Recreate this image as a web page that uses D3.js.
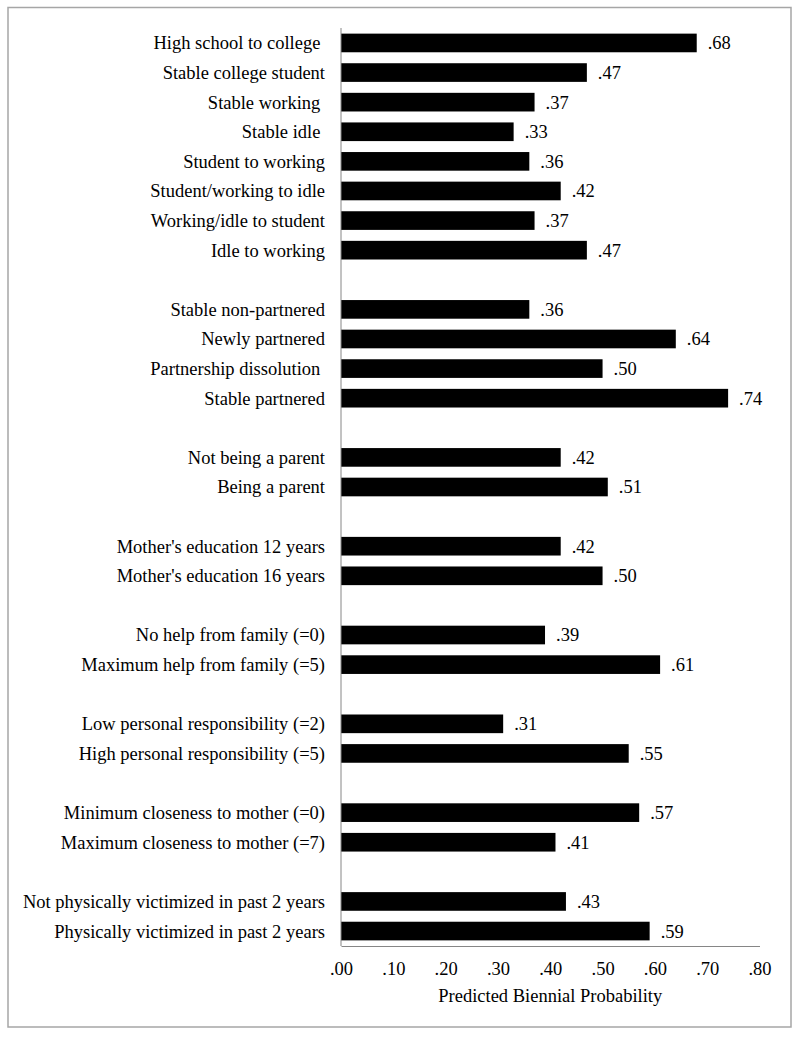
<!DOCTYPE html>
<html>
<head>
<meta charset="utf-8">
<script src="https://cdn.jsdelivr.net/npm/d3@7"></script>
<style>
	body { margin: 0; background: #fff; }
	text { font-family: "Liberation Serif", "DejaVu Serif", serif; fill: #000; white-space: pre; }
</style>
</head>
<body>
<div class="graphic"></div>
<script>
var width = 800;
var height = 1037;
var fontSize = 18.5;

// chart data
var categories = [
	"High school to college ", "Stable college student", "Stable working ", "Stable idle ",
	"Student to working", "Student/working to idle", "Working/idle to student", "Idle to working",
	"Stable non-partnered", "Newly partnered", "Partnership dissolution ", "Stable partnered",
	"Not being a parent", "Being a parent",
	"Mother's education 12 years", "Mother's education 16 years",
	"No help from family (=0)", "Maximum help from family (=5)",
	"Low personal responsibility (=2)", "High personal responsibility (=5)",
	"Minimum closeness to mother (=0)", "Maximum closeness to mother (=7)",
	"Not physically victimized in past 2 years", "Physically victimized in past 2 years"
];
var values = [
	.68, .47, .37, .33, .36, .42, .37, .47,
	.36, .64, .50, .74,
	.42, .51,
	.42, .50,
	.39, .61,
	.31, .55,
	.57, .41,
	.43, .59
];
var groupSizes = [8, 4, 2, 2, 2, 2, 2, 2];
var xTicks = [0, .1, .2, .3, .4, .5, .6, .7, .8];
var xTitle = "Predicted Biennial Probability";

// domain with an empty slot between the groups
var slots = [];
var k = 0;
groupSizes.forEach(function(size, g){
	if (g > 0) slots.push("gap" + g);
	for (var i = 0; i < size; i++) { slots.push(categories[k]); k++; }
});

var svg = d3.select("div.graphic").append("svg")
	.attr("width", width)
	.attr("height", height);

// outer frame
svg.append("rect")
	.attr("x", 8).attr("y", 7.5)
	.attr("width", 783).attr("height", 1019.5)
	.attr("fill", "none")
	.attr("stroke", "#a6a6a6")
	.attr("stroke-width", 1.5);

var x = d3.scaleLinear().domain([0, .8]).range([341, 759.5]);
var y = d3.scaleBand().domain(slots).range([28, 946])
	.paddingInner(0.37).paddingOuter(0.19);

// bars
svg.append("g").selectAll("rect")
	.data(categories)
	.enter()
	.append("rect")
	.attr("x", x(0))
	.attr("y", function(d){ return y(d); })
	.attr("width", function(d, i){ return x(values[i]) - x(0); })
	.attr("height", y.bandwidth())
	.attr("fill", "#000");

// value labels
svg.append("g").selectAll("text")
	.data(categories)
	.enter()
	.append("text")
	.attr("x", function(d, i){ return x(values[i]) + 11; })
	.attr("y", function(d){ return y(d) + y.bandwidth() / 2; })
	.attr("dy", "0.35em")
	.attr("font-size", fontSize)
	.text(function(d, i){ return d3.format(".2f")(values[i]).replace(/^0/, ""); });

// category labels
svg.append("g").selectAll("text")
	.data(categories)
	.enter()
	.append("text")
	.attr("x", 325)
	.attr("y", function(d){ return y(d) + y.bandwidth() / 2; })
	.attr("dy", "0.35em")
	.attr("text-anchor", "end")
	.attr("font-size", fontSize)
	.text(function(d){ return d.replace(/ $/, "\u00a0"); });

// y axis line
svg.append("line")
	.attr("x1", x(0)).attr("x2", x(0))
	.attr("y1", 28).attr("y2", 946)
	.attr("stroke", "#868686")
	.attr("stroke-width", 1);

// x axis
var xAxis = svg.append("g")
	.attr("transform", "translate(0,946)")
	.call(d3.axisBottom(x)
		.tickValues(xTicks)
		.tickSize(0)
		.tickPadding(16)
		.tickFormat(function(d){ return d3.format(".2f")(d).replace(/^0/, ""); }));
xAxis.select(".domain").attr("stroke", "#868686");
xAxis.selectAll("text")
	.attr("font-size", fontSize)
	.attr("font-family", "Liberation Serif, DejaVu Serif, serif")
	.attr("fill", "#000");

svg.append("text")
	.attr("x", (x(0) + x(.8)) / 2)
	.attr("y", 1002)
	.attr("text-anchor", "middle")
	.attr("font-size", fontSize)
	.text(xTitle);
</script>
</body>
</html>
